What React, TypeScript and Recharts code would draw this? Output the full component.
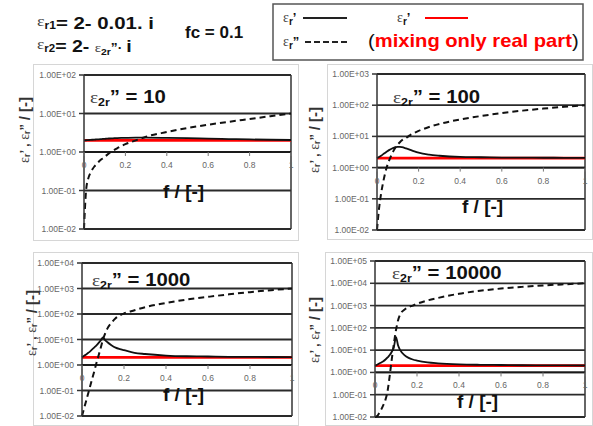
import { LineChart, Line, XAxis, YAxis, CartesianGrid, ReferenceLine, ReferenceDot } from 'recharts';

const FONT = '"Liberation Sans", Arial, sans-serif';
const SERIF = '"Liberation Serif", "DejaVu Serif", serif';

// volume fraction f
const F = [0, 0.01, 0.02, 0.03, 0.04, 0.05, 0.06, 0.07, 0.08, 0.09, 0.1, 0.11, 0.12, 0.14, 0.16, 0.18, 0.2, 0.25, 0.3, 0.4, 0.5, 0.6, 0.7, 0.8, 0.9, 1];
const X_TICKS = [0, 0.2, 0.4, 0.6, 0.8, 1];

// eps2r'' = 10
const RE_10 = [2.0, 2.02, 2.04, 2.06, 2.08, 2.1, 2.12, 2.14, 2.16, 2.18, 2.2, 2.22, 2.24, 2.27, 2.3, 2.32, 2.33, 2.35, 2.35, 2.32, 2.28, 2.22, 2.17, 2.12, 2.08, 2.05];
const IM_10 = [0.01, 0.1, 0.2, 0.28, 0.35, 0.42, 0.48, 0.55, 0.62, 0.68, 0.75, 0.83, 0.92, 1.08, 1.25, 1.42, 1.6, 2.0, 2.5, 3.3, 4.2, 5.1, 6.1, 7.2, 8.5, 10];
// eps2r'' = 100
const RE_100 = [2.0, 2.2, 2.4, 2.7, 3.0, 3.35, 3.7, 4.0, 4.3, 4.5, 4.6, 4.6, 4.5, 4.1, 3.7, 3.3, 3.0, 2.6, 2.4, 2.2, 2.15, 2.1, 2.08, 2.07, 2.06, 2.05];
const IM_100 = [0.01, 0.05, 0.15, 0.35, 0.7, 1.2, 1.8, 2.6, 3.5, 4.5, 5.5, 6.5, 7.5, 9.0, 11, 13, 15, 20, 25, 35, 45, 56, 67, 78, 89, 100];
// eps2r'' = 1000
const RE_1000 = [2.0, 2.3, 2.6, 3.0, 3.5, 4.2, 5.0, 6.0, 7.5, 9.5, 12, 9.5, 8.0, 6.0, 4.8, 4.2, 3.8, 3.0, 2.7, 2.35, 2.2, 2.15, 2.1, 2.08, 2.06, 2.05];
const IM_1000 = [0.01, 0.02, 0.04, 0.08, 0.16, 0.32, 0.63, 1.3, 2.5, 5, 10, 17, 26, 45, 68, 88, 105, 140, 185, 270, 370, 470, 590, 720, 860, 1000];
// eps2r'' = 10000
const RE_10000 = [2.0, 2.2, 2.5, 2.8, 3.2, 3.8, 4.7, 6.0, 8.5, 14, 38, 16, 10, 6.0, 4.5, 3.8, 3.4, 2.8, 2.55, 2.3, 2.2, 2.15, 2.1, 2.08, 2.06, 2.05];
const IM_10000 = [0.01, 0.011, 0.015, 0.022, 0.035, 0.06, 0.15, 0.7, 4, 20, 80, 220, 400, 650, 850, 1000, 1200, 1700, 2200, 3400, 4600, 5800, 6900, 8000, 9000, 10000];
// mixing only the real part
const MIX = [2, 2, 2, 2, 2, 2, 2, 2, 2, 2, 2, 2, 2, 2, 2, 2, 2, 2, 2, 2, 2, 2, 2, 2, 2, 2];

const Y_TICKS_10 = [0.01, 0.1, 1, 10, 100];
const Y_TICKS_100 = [0.01, 0.1, 1, 10, 100, 1000];
const Y_TICKS_1000 = [0.01, 0.1, 1, 10, 100, 1000, 10000];
const Y_TICKS_10000 = [0.01, 0.1, 1, 10, 100, 1000, 10000, 100000];

const panels = [
  { title: '10', re: RE_10, im: IM_10, ticks: Y_TICKS_10, box: [33, 64, 266, 177], m: { top: 11, right: 8, bottom: 12, left: 0 }, yw: 51, titleXY: [90, 103], fXY: [163, 198], labXY: [24, 130] },
  { title: '100', re: RE_100, im: IM_100, ticks: Y_TICKS_100, box: [327, 64, 266, 176], m: { top: 10, right: 8, bottom: 10, left: 0 }, yw: 50, titleXY: [393, 103], fXY: [462, 213], labXY: [314, 140] },
  { title: '1000', re: RE_1000, im: IM_1000, ticks: Y_TICKS_1000, box: [33, 252, 266, 174], m: { top: 11, right: 7, bottom: 10, left: 0 }, yw: 49, titleXY: [92, 286], fXY: [163, 401], labXY: [31, 323] },
  { title: '10000', re: RE_10000, im: IM_10000, ticks: Y_TICKS_10000, box: [325, 252, 268, 174], m: { top: 9, right: 8, bottom: 9, left: 0 }, yw: 50, titleXY: [392, 279], fXY: [457, 408], labXY: [314, 330] },
];

function sci(v: number) {
  const e = Math.round(Math.log10(v));
  return `1.00E${e < 0 ? '-' : '+'}${String(Math.abs(e)).padStart(2, '0')}`;
}

// small tick marks hanging under the f axis (which sits on the 1e0 line)
function XTickMark({ x, lineY }: { x?: number; lineY: number }) {
  return <line x1={x} x2={x} y1={lineY} y2={lineY + 4} stroke="#777" strokeWidth={1} />;
}

function Panel({ p }: { p: (typeof panels)[number] }) {
  const [left, top, w, h] = p.box;
  const data = F.map((f, i) => ({ f, re: p.re[i], im: p.im[i], mix: MIX[i] }));
  const yMax = p.ticks[p.ticks.length - 1];
  const plotH = h - p.m.top - p.m.bottom;
  const decades = Math.log10(yMax) + 2;
  const lineY = p.m.top + (plotH * Math.log10(yMax)) / decades;
  return (
    <div style={{ position: 'absolute', left, top, width: w, height: h, boxSizing: 'border-box', border: '1px solid #d6d6d6' }}>
      <div style={{ position: 'absolute', left: -1, top: -1 }}>
        <LineChart width={w} height={h} data={data} margin={{ ...p.m, bottom: 0 }}>
          <CartesianGrid vertical={false} stroke="#2a2a2a" strokeWidth={1.8} />
          <XAxis
            dataKey="f"
            type="number"
            domain={[0, 1]}
            ticks={X_TICKS}
            interval={0}
            height={p.m.bottom}
            axisLine={false}
            tickLine={false}
            tick={<XTickMark lineY={lineY} />}
          />
          <YAxis
            type="number"
            scale="log"
            domain={[0.01, yMax]}
            ticks={p.ticks}
            interval={0}
            width={p.yw}
            tickFormatter={sci}
            tick={{ fontSize: 8.5, fontFamily: FONT, fill: '#666' }}
            tickSize={5}
            tickMargin={3}
            axisLine={{ stroke: '#333', strokeWidth: 1.5 }}
            tickLine={{ stroke: '#333', strokeWidth: 1.5 }}
          />
          <ReferenceLine x={1} stroke="#333" strokeWidth={1.5} />
          <ReferenceLine y={1} stroke="#1a1a1a" strokeWidth={1.8} />
          {X_TICKS.map((v) => (
            <ReferenceDot
              key={v}
              x={v}
              y={1}
              r={0}
              fill="none"
              stroke="none"
              ifOverflow="visible"
              label={{ value: String(v), position: 'bottom', offset: 10, fontSize: 8.5, fontFamily: FONT, fill: '#666' }}
            />
          ))}
          <Line dataKey="mix" type="monotone" stroke="#ff0000" strokeWidth={2.8} dot={false} isAnimationActive={false} />
          <Line dataKey="re" type="monotone" stroke="#111" strokeWidth={1.8} dot={false} isAnimationActive={false} />
          <Line dataKey="im" type="monotone" stroke="#111" strokeWidth={2} strokeDasharray="6 4" dot={false} isAnimationActive={false} />
        </LineChart>
      </div>
    </div>
  );
}

function Eps({ sub, mark, size = 15, subSize = 10, markSize = 15 }: { sub: string; mark: string; size?: number; subSize?: number; markSize?: number }) {
  return (
    <>
      <tspan fontFamily={SERIF} fontWeight="normal" fontSize={size} fill="#444">ε</tspan>
      <tspan fontSize={subSize} fontWeight="bold" dy={3}>{sub}</tspan>
      <tspan fontSize={markSize} fontWeight="bold" dy={-3}>{mark}</tspan>
    </>
  );
}

export default function App() {
  return (
    <div style={{ position: 'absolute', left: 0, top: 0, width: 593, height: 426, background: '#fff', fontFamily: FONT }}>
      {panels.map((p) => (
        <Panel key={p.title} p={p} />
      ))}
      <svg width={593} height={426} style={{ position: 'absolute', left: 0, top: 0, pointerEvents: 'none' }}>
        {/* header */}
        <text transform="translate(37,26) scale(1.2,1)" fontFamily={FONT} fontWeight="bold" fontSize={17} fill="#111">
          <Eps sub="r1" mark="" />
          <tspan>= 2- 0.01. i</tspan>
        </text>
        <text transform="translate(37,49) scale(1.15,1)" fontFamily={FONT} fontWeight="bold" fontSize={17} fill="#111">
          <Eps sub="r2" mark="" />
          <tspan>= 2-  </tspan>
          <Eps sub="2r" mark="”· " size={13} subSize={9} markSize={12} />
          <tspan>i</tspan>
        </text>
        <text x={185} y={38} fontFamily={FONT} fontWeight="bold" fontSize={17} fill="#111">fc = 0.1</text>

        {/* legend */}
        <rect x={273} y={4} width={310} height={56} fill="#fff" stroke="#555" strokeWidth={1.5} />
        <text x={283} y={22} fontFamily={FONT} fill="#111">
          <Eps sub="r" mark="’" size={14} subSize={10} markSize={13} />
        </text>
        <line x1={303} x2={347} y1={18} y2={18} stroke="#222" strokeWidth={2} />
        <text x={397} y={22} fontFamily={FONT} fill="#111">
          <Eps sub="r" mark="’" size={14} subSize={10} markSize={13} />
        </text>
        <line x1={425} x2={468} y1={18} y2={18} stroke="#ff0000" strokeWidth={2} />
        <text x={283} y={46} fontFamily={FONT} fill="#111">
          <Eps sub="r" mark="”" size={14} subSize={10} markSize={13} />
        </text>
        <line x1={305} x2={347} y1={42} y2={42} stroke="#222" strokeWidth={2} strokeDasharray="6 3" />
        <text transform="translate(368,47) scale(1.12,1)" fontFamily={FONT} fontSize={18} fill="#111">
          <tspan>(</tspan>
          <tspan fontWeight="bold" fill="#ff0000">mixing only real part</tspan>
          <tspan>)</tspan>
        </text>

        {panels.map((p) => (
          <g key={p.title}>
            <text transform={`translate(${p.titleXY[0]},${p.titleXY[1]}) scale(1.13,1)`} fontFamily={FONT} fontWeight="bold" fontSize={18} fill="#111">
              <Eps sub="2r" mark="” = " size={17} subSize={11} markSize={18} />
              <tspan>{p.title}</tspan>
            </text>
            <text x={p.fXY[0]} y={p.fXY[1]} fontFamily={FONT} fontWeight="bold" fontSize={19} fill="#111">f / [-]</text>
            <text
              transform={`translate(${p.labXY[0]},${p.labXY[1]}) rotate(-90)`}
              textAnchor="middle"
              dominantBaseline="central"
              fontFamily={FONT}
              fill="#333"
            >
              <Eps sub="r" mark="’ , " size={14} subSize={9} markSize={13} />
              <Eps sub="r" mark="” " size={14} subSize={9} markSize={13} />
              <tspan fontWeight="bold" fontSize={15}>/ [-]</tspan>
            </text>
          </g>
        ))}
      </svg>
    </div>
  );
}
